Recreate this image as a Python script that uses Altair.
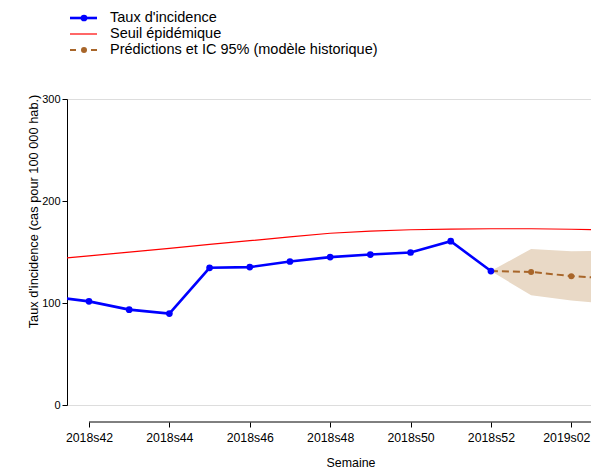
import json
import altair as alt
import pandas as pd

# ---------------- data ----------------
weeks = ["2018s41", "2018s42", "2018s43", "2018s44", "2018s45", "2018s46",
         "2018s47", "2018s48", "2018s49", "2018s50", "2018s51", "2018s52",
         "2019s01", "2019s02", "2019s03"]
incidence_weeks = weeks[:12]
incidence = [106.5, 101.6, 93.5, 89.6, 134.5, 135.2, 140.7, 145.0, 147.5, 149.5, 160.6, 131.3]
threshold = [142.5, 146.2, 149.9, 153.6, 157.4, 161.1, 164.8, 168.4, 170.5, 171.8,
             172.5, 172.8, 172.8, 172.3, 171.5]
pred_weeks = ["2018s52", "2019s01", "2019s02", "2019s03"]
pred = [131.3, 130.5, 126.3, 124.0]
pred_low = [131.3, 107.5, 102.5, 99.0]
pred_high = [131.3, 153.0, 150.8, 151.0]
x_ticks = ["2018s42", "2018s44", "2018s46", "2018s48", "2018s50", "2018s52", "2019s02"]
y_ticks = [0, 100, 200, 300]
legend_labels = ["Taux d'incidence", "Seuil épidémique",
                 "Prédictions et IC 95% (modèle historique)"]

idx = {w: i for i, w in enumerate(weeks)}

df_inc = pd.DataFrame({"i": [idx[w] for w in incidence_weeks], "v": incidence})
df_thr = pd.DataFrame({"i": [idx[w] for w in weeks], "v": threshold})
df_pred = pd.DataFrame({"i": [idx[w] for w in pred_weeks], "v": pred,
                        "lo": pred_low, "hi": pred_high})
df_pred_pts = df_pred.iloc[1:]
one = pd.DataFrame({"k": [0]})

# ---------------- style ----------------
FONT = "Liberation Sans"
W, H = 524, 306
X_MIN, X_MAX = 0.453, 13.49
BLUE = "#0000ff"
RED = "#ff0000"
BROWN = "#a8662a"
BAND = "#e9d9c6"
last_tick = idx[x_ticks[-1]]

xscale = alt.Scale(domain=[X_MIN, X_MAX], nice=False, zero=False)
yscale = alt.Scale(domain=[0, 300], nice=False, zero=False)

xaxis = alt.Axis(
    values=[idx[w] for w in x_ticks],
    labelExpr=json.dumps(weeks) + "[datum.value]",
    offset=17, domain=False, grid=False,
    tickSize=5, tickColor="black", tickWidth=1,
    labelPadding=4, labelFontSize=12.3, labelColor="black", labelFont=FONT,
    labelOverlap=False, labelFlush=False,
    labelOffset={"expr": f"datum.value == {last_tick} ? -5 : 0"},
    title="Semaine", titleFontSize=12.4, titleFontWeight="normal",
    titleColor="black", titleFont=FONT, titleX=283.5, titleY=34,
)
yaxis = alt.Axis(
    values=y_ticks, grid=False,
    domain=True, domainColor="black", domainWidth=1,
    tickSize=5, tickColor="black", tickWidth=1,
    labelPadding=2, labelFontSize=11, labelColor="black", labelFont=FONT,
    title="Taux d'incidence (cas pour 100 000 hab.)", titleFontSize=12.8,
    titleFontWeight="normal", titleColor="black", titleFont=FONT,
    titleX=-27, titleY=112,
)

X = alt.X("i:Q", scale=xscale, axis=xaxis)
Y = alt.Y("v:Q", scale=yscale, axis=yaxis)

band = alt.Chart(df_pred).mark_area(color=BAND, clip=True).encode(
    x=X, y=alt.Y("lo:Q", scale=yscale, axis=yaxis), y2="hi:Q")
thr = alt.Chart(df_thr).mark_line(color=RED, strokeWidth=1.2, clip=True).encode(x=X, y=Y)
pred_line = alt.Chart(df_pred).mark_line(color=BROWN, strokeWidth=2, strokeDash=[7, 4],
                                         clip=True).encode(x=X, y=Y)
pred_pts = alt.Chart(df_pred_pts).mark_point(color=BROWN, filled=True, opacity=1,
                                             size=36, clip=True).encode(x=X, y=Y)
inc_line = alt.Chart(df_inc).mark_line(color=BLUE, strokeWidth=2.6, clip=True).encode(x=X, y=Y)
inc_pts = alt.Chart(df_inc).mark_point(color=BLUE, filled=True, opacity=1,
                                       size=45, clip=True).encode(x=X, y=Y)

# x axis line starting at the first tick
x_domain = alt.Chart(one).mark_rule(color="black", strokeWidth=1).encode(
    x=alt.datum(idx[x_ticks[0]], scale=xscale), x2=alt.value(W), y=alt.value(H + 17))

# ---------------- legend ----------------
rows = [-81, -65, -49]
leg = []
leg.append(alt.Chart(one).mark_rule(color=BLUE, strokeWidth=2.6).encode(
    x=alt.value(3), x2=alt.value(30), y=alt.value(rows[0])))
leg.append(alt.Chart(one).mark_point(color=BLUE, filled=True, opacity=1, size=45).encode(
    x=alt.value(17), y=alt.value(rows[0])))
leg.append(alt.Chart(one).mark_rule(color=RED, strokeWidth=1.2).encode(
    x=alt.value(3), x2=alt.value(30), y=alt.value(rows[1])))
leg.append(alt.Chart(one).mark_rule(color=BROWN, strokeWidth=2, strokeDash=[6, 15]).encode(
    x=alt.value(3), x2=alt.value(30), y=alt.value(rows[2])))
leg.append(alt.Chart(one).mark_point(color=BROWN, filled=True, opacity=1, size=36).encode(
    x=alt.value(17), y=alt.value(rows[2])))
for lab, ry in zip(legend_labels, rows):
    leg.append(alt.Chart(pd.DataFrame({"t": [lab]})).mark_text(
        align="left", baseline="middle", font=FONT, fontSize=14.5, color="black").encode(
        x=alt.value(43), y=alt.value(ry), text="t:N"))

chart = alt.layer(band, thr, pred_line, inc_line, inc_pts, pred_pts, x_domain, *leg).properties(
    width=W, height=H,
    autosize=alt.AutoSizeParams(type="none"),
    padding={"left": 59, "top": 91, "right": 0, "bottom": 63},
).configure_view(stroke=None).configure(font=FONT)

chart.save("out.html", embed_options={"renderer": "svg", "actions": False})
